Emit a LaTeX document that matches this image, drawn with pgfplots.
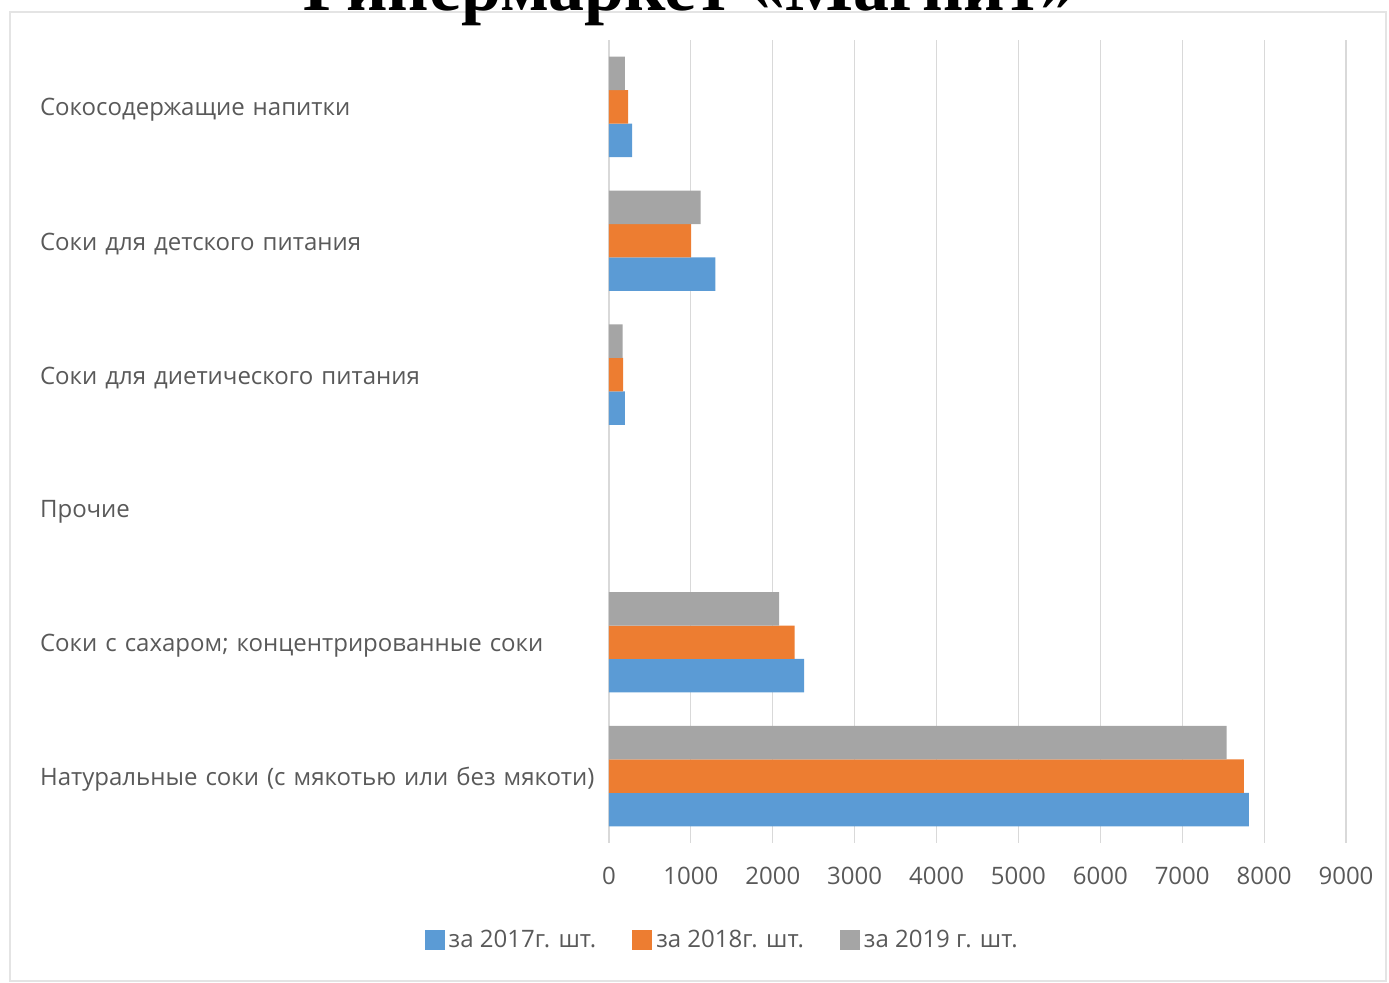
\documentclass[border=0pt]{standalone}
\usepackage{pgfplots}
\pgfplotsset{compat=1.18}
\usepackage{fontspec}
\setmainfont{Open Sans}
\newfontfamily\titlefont{Liberation Serif}
\definecolor{cblue}{HTML}{5B9BD5}
\definecolor{corange}{HTML}{ED7D31}
\definecolor{cgray}{HTML}{A5A5A5}
\definecolor{ctext}{HTML}{595959}
\definecolor{cgrid}{HTML}{D9D9D9}
\begin{document}
\begin{tikzpicture}
\useasboundingbox (0,0) rectangle (694.5pt,-491.5pt);
\begin{scope}[x=0.5pt,y=-0.5pt]
\draw[cgrid!70,line width=0.6pt] (10,12) rectangle (1386,981);
\node[anchor=base,font=\titlefont\bfseries\fontsize{36}{40}\selectfont] at (690,11) {Гипермаркет «Магнит»};
\end{scope}
\begin{axis}[
  at={(304.5pt,-421.5pt)}, anchor=south west,
  scale only axis, width=368.5pt, height=401.5pt,
  xbar, bar width=0.25,
  xmin=0, xmax=9000, ymin=-0.5, ymax=5.5,
  xtick={0,1000,...,9000},
  ytick={0,1,2,3,4,5},
  yticklabels={Натуральные соки (с мякотью или без мякоти),Соки с сахаром; концентрированные соки,Прочие,Соки для диетического питания,Соки для детского питания,Сокосодержащие напитки},
  axis line style={draw=none},
  tick style={draw=none},
  xmajorgrids, major grid style={cgrid, line width=0.6pt},
  scaled x ticks=false,
  /pgf/number format/assume math mode=true,
  xticklabel={\pgfmathprintnumber[1000 sep={}]{\tick}},
  ticklabel style={font=\fontsize{12}{14}\selectfont, text=ctext},
  xticklabel style={yshift=-8.5pt},
  yticklabel style={anchor=east, text width=290pt, align=left, inner sep=0pt, xshift=10pt, yshift=-1.5pt},
  legend style={at={(0.155,-0.121)}, anchor=center, draw=none, fill=none, font=\fontsize{12}{14}\selectfont, text=ctext, legend columns=3, /tikz/every even column/.append style={column sep=16pt}},
  legend image code/.code={\fill[#1] (0pt,-5pt) rectangle (10pt,5pt);},
  legend cell align=left,
]
\addplot[fill=cblue, draw=none, bar shift=-0.25] coordinates {(7814,0) (2383,1) (194,3) (1300,4) (282,5)};
\addplot[fill=corange, draw=none, bar shift=0] coordinates {(7754,0) (2268,1) (173,3) (1003,4) (234,5)};
\addplot[fill=cgray, draw=none, bar shift=0.25] coordinates {(7541,0) (2077,1) (165,3) (1118,4) (194,5)};
\legend{за 2017г. шт.,за 2018г. шт.,за 2019 г. шт.}
\end{axis}
\end{tikzpicture}
\end{document}
